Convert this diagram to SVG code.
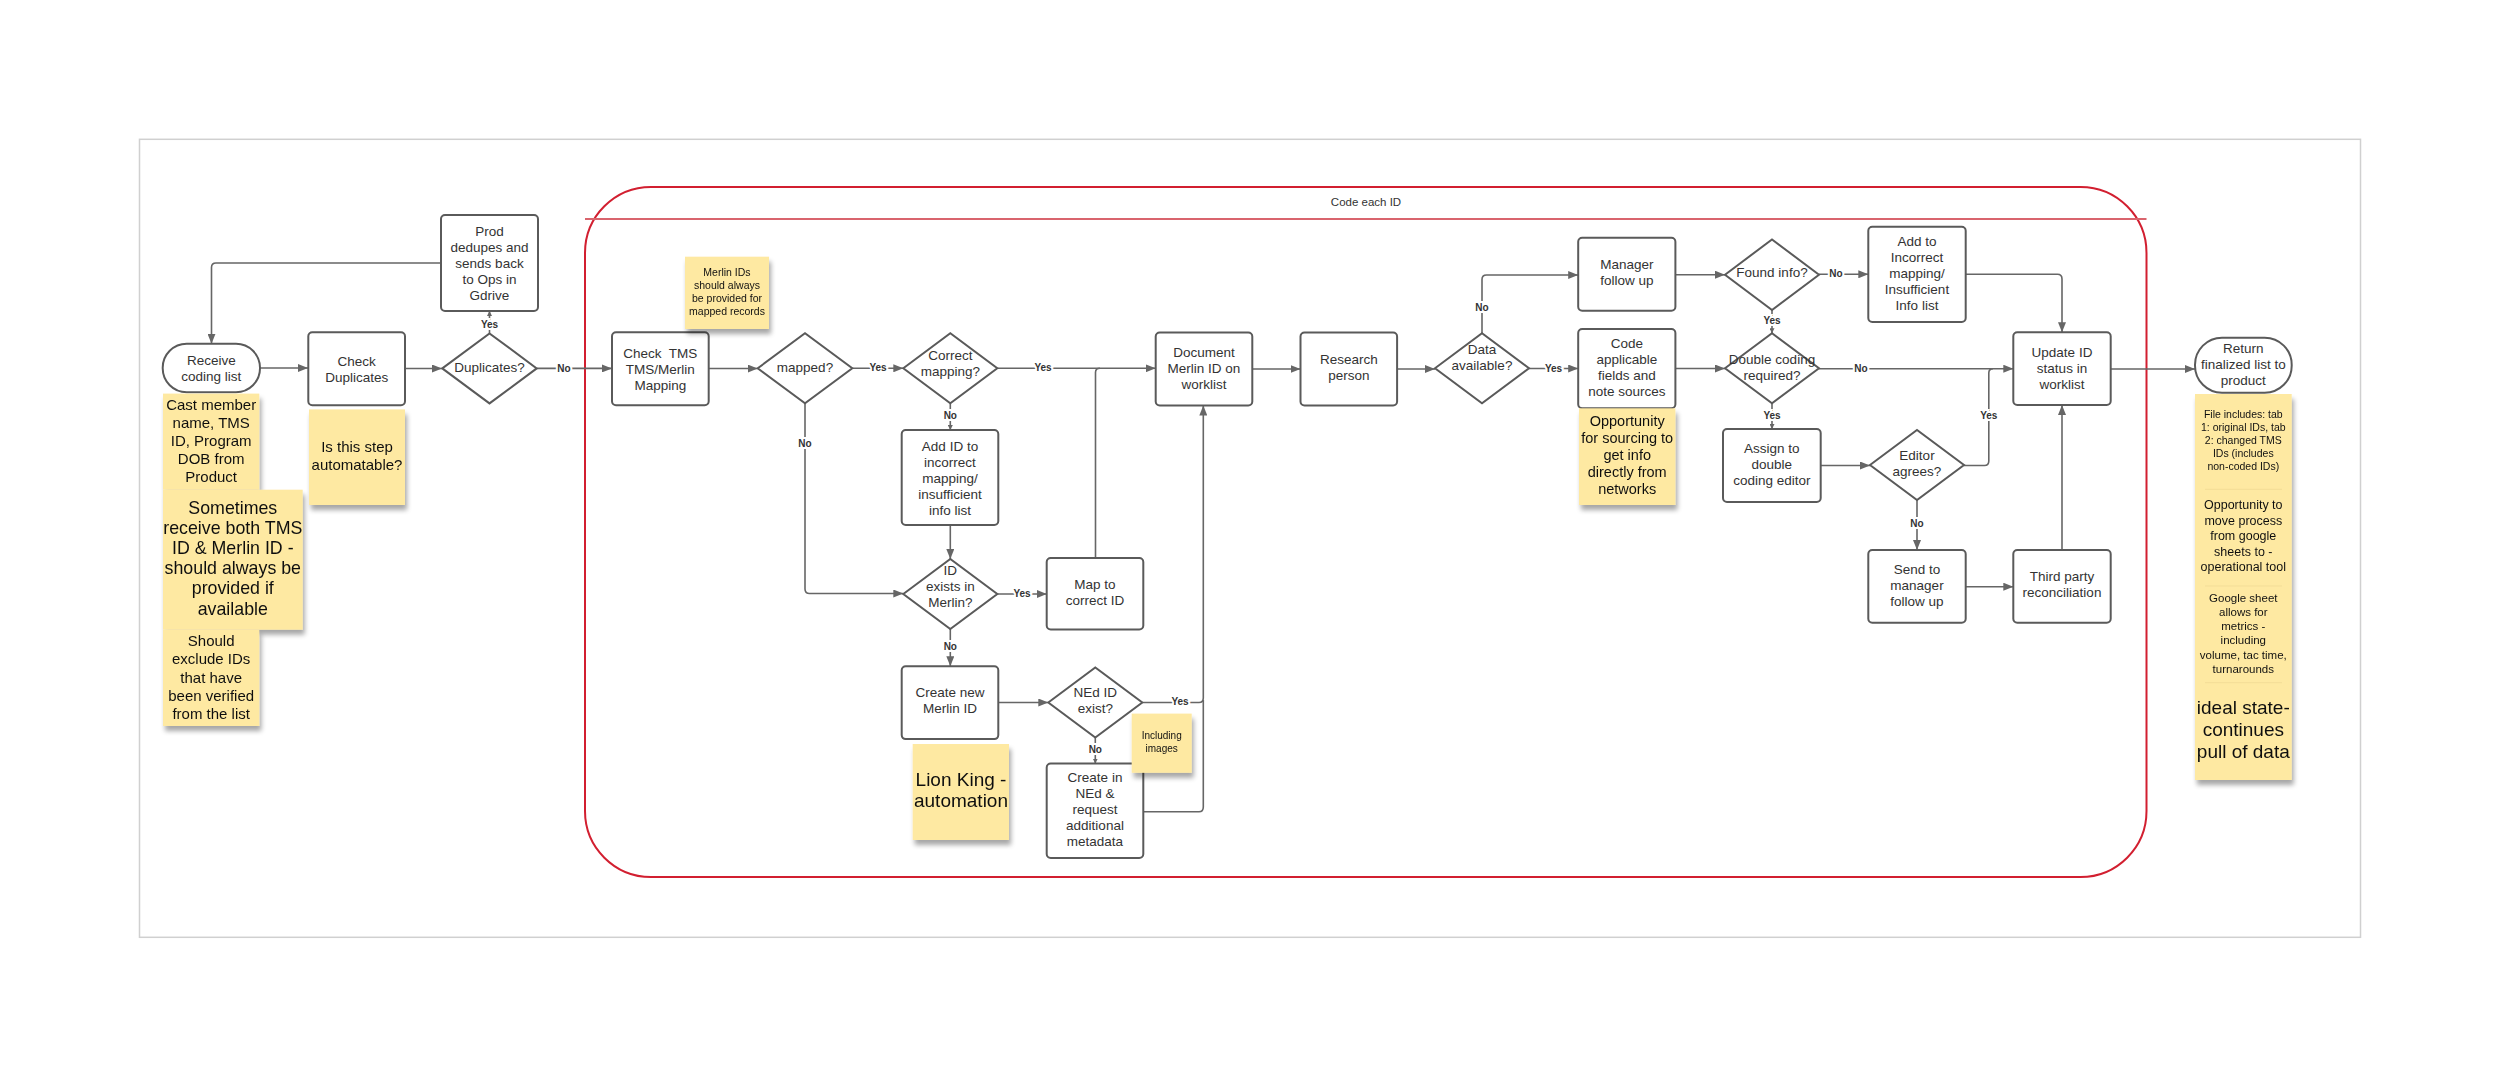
<svg xmlns="http://www.w3.org/2000/svg" width="2500" height="1077" viewBox="0 0 2500 1077">
<defs>
<marker id="arr" markerUnits="userSpaceOnUse" markerWidth="11" markerHeight="8" refX="10" refY="4" orient="auto">
<path d="M0,0 L10,4 L0,8 z" fill="#666"/>
</marker>
<marker id="arrs" markerUnits="userSpaceOnUse" markerWidth="6" markerHeight="5" refX="5" refY="2.5" orient="auto">
<path d="M0,0 L5,2.5 L0,5 z" fill="#666"/>
</marker>
<filter id="sh" x="-20%" y="-20%" width="140%" height="150%">
<feGaussianBlur in="SourceAlpha" stdDeviation="2.5"/>
<feOffset dx="2" dy="5" result="b"/>
<feComponentTransfer><feFuncA type="linear" slope="0.35"/></feComponentTransfer>
<feMerge><feMergeNode/><feMergeNode in="SourceGraphic"/></feMerge>
</filter>
</defs>
<style>
.n{fill:#fff;stroke:#5a5a5a;stroke-width:2}
.t{font-family:"Liberation Sans",Arial,sans-serif;font-size:13.5px;fill:#333;text-anchor:middle;dominant-baseline:central}
.c{fill:none;stroke:#666;stroke-width:1.6}
.l{font-family:"Liberation Sans",Arial,sans-serif;font-size:10px;font-weight:bold;fill:#333;text-anchor:middle;dominant-baseline:central;stroke:#fff;stroke-width:4;paint-order:stroke}
.s{fill:#fee9a2}
.st{font-family:"Liberation Sans",Arial,sans-serif;fill:#111;text-anchor:middle;dominant-baseline:central}
</style>
<rect width="2500" height="1077" fill="#fff"/>
<rect x="139.5" y="139.3" width="2221" height="798" fill="none" stroke="#d0d0d0" stroke-width="1.5"/>

<g id="container">
<rect x="585" y="187" width="1561.5" height="690" rx="66" fill="none" stroke="#d21f30" stroke-width="2"/>
<line x1="585" y1="219" x2="2146.5" y2="219" stroke="#d9646d" stroke-width="1.8"/>
<text x="1366" y="202" class="t" style="font-size:11.5px">Code each ID</text>
</g>

<g id="connectors">
<path class="c" d="M260,368 H308" marker-end="url(#arr)"/>
<path class="c" d="M405,368.5 H442" marker-end="url(#arr)"/>
<path class="c" d="M489.5,333.4 V311" marker-end="url(#arrs)"/>
<path class="c" d="M441,263 H216 Q211.5,263 211.5,267.5 V343.8" marker-end="url(#arr)"/>
<path class="c" d="M536.7,368.4 H612" marker-end="url(#arr)"/>
<path class="c" d="M708.7,368.5 H757.7" marker-end="url(#arr)"/>
<path class="c" d="M852.3,368.3 H903.3" marker-end="url(#arr)"/>
<path class="c" d="M997.3,368.3 H1155.7" marker-end="url(#arr)"/>
<path class="c" d="M950.3,403.3 V430" marker-end="url(#arrs)"/>
<path class="c" d="M950.3,525 V559" marker-end="url(#arr)"/>
<path class="c" d="M805,403.3 V589 Q805,593.5 809.5,593.5 H903.3" marker-end="url(#arr)"/>
<path class="c" d="M997.3,594 H1046.7" marker-end="url(#arr)"/>
<path class="c" d="M1095.5,558 V372.5 Q1095.5,368.3 1100,368.3"/>
<path class="c" d="M950.3,629 V666.3" marker-end="url(#arr)"/>
<path class="c" d="M998.3,702.5 H1048.3" marker-end="url(#arr)"/>
<path class="c" d="M1142.3,702.5 H1199 Q1203.3,702.5 1203.3,698 V405.5" marker-end="url(#arr)"/>
<path class="c" d="M1095.3,737.5 V763.6" marker-end="url(#arrs)"/>
<path class="c" d="M1143.3,811.7 H1199 Q1203.3,811.7 1203.3,807 V700"/>
<path class="c" d="M1252.3,369 H1300.5" marker-end="url(#arr)"/>
<path class="c" d="M1397.1,369 H1435" marker-end="url(#arr)"/>
<path class="c" d="M1529,368.5 H1578.2" marker-end="url(#arr)"/>
<path class="c" d="M1482,333.3 V279.5 Q1482,275 1486.5,275 H1578.2" marker-end="url(#arr)"/>
<path class="c" d="M1675.4,274.7 H1725" marker-end="url(#arr)"/>
<path class="c" d="M1819,274.3 H1868.3" marker-end="url(#arr)"/>
<path class="c" d="M1772,310 V333.3" marker-end="url(#arrs)"/>
<path class="c" d="M1675.4,368.5 H1725" marker-end="url(#arr)"/>
<path class="c" d="M1819,368.7 H2013.3" marker-end="url(#arr)"/>
<path class="c" d="M1772,403.3 V429" marker-end="url(#arrs)"/>
<path class="c" d="M1820.7,465.5 H1870" marker-end="url(#arr)"/>
<path class="c" d="M1964,465.5 H1984.5 Q1988.8,465.5 1988.8,461 V373 Q1988.8,368.7 1993,368.7"/>
<path class="c" d="M1917,500 V550" marker-end="url(#arr)"/>
<path class="c" d="M1965.7,586.7 H2013.3" marker-end="url(#arr)"/>
<path class="c" d="M2062,550 V405" marker-end="url(#arr)"/>
<path class="c" d="M1965.7,274.3 H2057.5 Q2062,274.3 2062,279 V332.3" marker-end="url(#arr)"/>
<path class="c" d="M2110.7,369 H2195" marker-end="url(#arr)"/>
<text class="l" x="489.5" y="324.5">Yes</text>
<text class="l" x="564" y="368.4">No</text>
<text class="l" x="878" y="367.5">Yes</text>
<text class="l" x="1043" y="367.5">Yes</text>
<text class="l" x="950.3" y="415.5">No</text>
<text class="l" x="805" y="443.5">No</text>
<text class="l" x="1022" y="593">Yes</text>
<text class="l" x="950.3" y="646">No</text>
<text class="l" x="1180" y="701">Yes</text>
<text class="l" x="1095.3" y="749">No</text>
<text class="l" x="1553.5" y="368">Yes</text>
<text class="l" x="1482" y="307.7">No</text>
<text class="l" x="1836" y="273.5">No</text>
<text class="l" x="1772" y="320">Yes</text>
<text class="l" x="1861" y="368">No</text>
<text class="l" x="1772" y="415">Yes</text>
<text class="l" x="1988.8" y="415.7">Yes</text>
<text class="l" x="1917" y="523.3">No</text>
</g>

<g id="receive"><rect class="n" x="162.7" y="343.8" width="97.3" height="48.4" rx="24"/>
<text class="t" x="211.3" y="368"><tspan x="211.3" dy="-8">Receive</tspan><tspan x="211.3" dy="16">coding list</tspan></text></g>
<g id="check-duplicates"><rect class="n" x="308.3" y="332.2" width="96.7" height="73" rx="4"/>
<text class="t" x="356.7" y="368.7"><tspan x="356.7" dy="-8">Check</tspan><tspan x="356.7" dy="16">Duplicates</tspan></text></g>
<g id="duplicates"><polygon class="n" points="442.3,368.4 489.5,333.4 536.7,368.4 489.5,403.4"/>
<text class="t" x="489.5" y="367">Duplicates?</text></g>
<g id="prod-dedupes"><rect class="n" x="441" y="215" width="97" height="96" rx="4"/>
<text class="t" x="489.5" y="263"><tspan x="489.5" dy="-32">Prod</tspan><tspan x="489.5" dy="16">dedupes and</tspan><tspan x="489.5" dy="16">sends back</tspan><tspan x="489.5" dy="16">to Ops in</tspan><tspan x="489.5" dy="16">Gdrive</tspan></text></g>
<g id="check-tms"><rect class="n" x="612" y="332.3" width="96.7" height="73" rx="4"/>
<text class="t" x="660.3" y="368.8" style="white-space:pre"><tspan x="660.3" dy="-16">Check  TMS</tspan><tspan x="660.3" dy="16">TMS/Merlin</tspan><tspan x="660.3" dy="16">Mapping</tspan></text></g>
<g id="mapped"><polygon class="n" points="757.7,368.3 805,333.3 852.3,368.3 805,403.3"/>
<text class="t" x="805" y="367">mapped?</text></g>
<g id="correct-mapping"><polygon class="n" points="903.3,368.3 950.3,333.3 997.3,368.3 950.3,403.3"/>
<text class="t" x="950.3" y="363"><tspan x="950.3" dy="-8">Correct</tspan><tspan x="950.3" dy="16">mapping?</tspan></text></g>
<g id="add-id-incorrect"><rect class="n" x="901.7" y="430" width="96.6" height="95" rx="4"/>
<text class="t" x="950" y="477.5"><tspan x="950" dy="-32">Add ID to</tspan><tspan x="950" dy="16">incorrect</tspan><tspan x="950" dy="16">mapping/</tspan><tspan x="950" dy="16">insufficient</tspan><tspan x="950" dy="16">info list</tspan></text></g>
<g id="id-exists"><polygon class="n" points="903.3,594 950.3,559 997.3,594 950.3,629"/>
<text class="t" x="950.3" y="585.7"><tspan x="950.3" dy="-16">ID</tspan><tspan x="950.3" dy="16">exists in</tspan><tspan x="950.3" dy="16">Merlin?</tspan></text></g>
<g id="map-correct"><rect class="n" x="1046.7" y="558" width="96.6" height="71.4" rx="4"/>
<text class="t" x="1095" y="591.7"><tspan x="1095" dy="-8">Map to</tspan><tspan x="1095" dy="16">correct ID</tspan></text></g>
<g id="create-merlin"><rect class="n" x="901.7" y="666.3" width="96.6" height="72.8" rx="4"/>
<text class="t" x="950" y="700.4"><tspan x="950" dy="-8">Create new</tspan><tspan x="950" dy="16">Merlin ID</tspan></text></g>
<g id="ned-exist"><polygon class="n" points="1048.3,702.5 1095.3,667.5 1142.3,702.5 1095.3,737.5"/>
<text class="t" x="1095.3" y="699.7"><tspan x="1095.3" dy="-8">NEd ID</tspan><tspan x="1095.3" dy="16">exist?</tspan></text></g>
<g id="create-ned"><rect class="n" x="1046.7" y="763.6" width="96.6" height="94.3" rx="4"/>
<text class="t" x="1095" y="809.2"><tspan x="1095" dy="-32">Create in</tspan><tspan x="1095" dy="16">NEd &amp;</tspan><tspan x="1095" dy="16">request</tspan><tspan x="1095" dy="16">additional</tspan><tspan x="1095" dy="16">metadata</tspan></text></g>
<g id="document"><rect class="n" x="1155.7" y="332.5" width="96.6" height="73" rx="4"/>
<text class="t" x="1204" y="367.5"><tspan x="1204" dy="-16">Document</tspan><tspan x="1204" dy="16">Merlin ID on</tspan><tspan x="1204" dy="16">worklist</tspan></text></g>
<g id="research"><rect class="n" x="1300.5" y="332.5" width="96.6" height="73" rx="4"/>
<text class="t" x="1348.8" y="366.7"><tspan x="1348.8" dy="-8">Research</tspan><tspan x="1348.8" dy="16">person</tspan></text></g>
<g id="data-available"><polygon class="n" points="1435,368.3 1482,333.3 1529,368.3 1482,403.3"/>
<text class="t" x="1482" y="357.3"><tspan x="1482" dy="-8">Data</tspan><tspan x="1482" dy="16">available?</tspan></text></g>
<g id="manager-follow"><rect class="n" x="1578.2" y="237.7" width="97.2" height="73" rx="4"/>
<text class="t" x="1626.8" y="272.3"><tspan x="1626.8" dy="-8">Manager</tspan><tspan x="1626.8" dy="16">follow up</tspan></text></g>
<g id="code-fields"><rect class="n" x="1578.2" y="329" width="97.2" height="79.3" rx="4"/>
<text class="t" x="1626.8" y="367"><tspan x="1626.8" dy="-24">Code</tspan><tspan x="1626.8" dy="16">applicable</tspan><tspan x="1626.8" dy="16">fields and</tspan><tspan x="1626.8" dy="16">note sources</tspan></text></g>
<g id="found-info"><polygon class="n" points="1725,274.7 1772,239.5 1819,274.7 1772,310"/>
<text class="t" x="1772" y="272.3">Found info?</text></g>
<g id="add-incorrect"><rect class="n" x="1868.3" y="226.7" width="97.4" height="95.3" rx="4"/>
<text class="t" x="1917" y="272.7"><tspan x="1917" dy="-32">Add to</tspan><tspan x="1917" dy="16">Incorrect</tspan><tspan x="1917" dy="16">mapping/</tspan><tspan x="1917" dy="16">Insufficient</tspan><tspan x="1917" dy="16">Info list</tspan></text></g>
<g id="double-coding"><polygon class="n" points="1725,368.3 1772,333.3 1819,368.3 1772,403.3"/>
<text class="t" x="1772" y="367"><tspan x="1772" dy="-8">Double coding</tspan><tspan x="1772" dy="16">required?</tspan></text></g>
<g id="assign-editor"><rect class="n" x="1723" y="429" width="97.7" height="73" rx="4"/>
<text class="t" x="1771.8" y="464.3"><tspan x="1771.8" dy="-16">Assign to</tspan><tspan x="1771.8" dy="16">double</tspan><tspan x="1771.8" dy="16">coding editor</tspan></text></g>
<g id="editor-agrees"><polygon class="n" points="1870,465 1917,430 1964,465 1917,500"/>
<text class="t" x="1917" y="463"><tspan x="1917" dy="-8">Editor</tspan><tspan x="1917" dy="16">agrees?</tspan></text></g>
<g id="send-manager"><rect class="n" x="1868.3" y="550" width="97.4" height="72.7" rx="4"/>
<text class="t" x="1917" y="585"><tspan x="1917" dy="-16">Send to</tspan><tspan x="1917" dy="16">manager</tspan><tspan x="1917" dy="16">follow up</tspan></text></g>
<g id="third-party"><rect class="n" x="2013.3" y="550" width="97.4" height="72.7" rx="4"/>
<text class="t" x="2062" y="584"><tspan x="2062" dy="-8">Third party</tspan><tspan x="2062" dy="16">reconciliation</tspan></text></g>
<g id="update-status"><rect class="n" x="2013.3" y="332.3" width="97.4" height="72.7" rx="4"/>
<text class="t" x="2062" y="367.7"><tspan x="2062" dy="-16">Update ID</tspan><tspan x="2062" dy="16">status in</tspan><tspan x="2062" dy="16">worklist</tspan></text></g>
<g id="return-list"><rect class="n" x="2195" y="337.7" width="96.7" height="55" rx="27"/>
<text class="t" x="2243.3" y="363.7"><tspan x="2243.3" dy="-16">Return</tspan><tspan x="2243.3" dy="16">finalized list to</tspan><tspan x="2243.3" dy="16">product</tspan></text></g>

<g id="note-cast" filter="url(#sh)"><rect class="s" x="163" y="393.6" width="96.3" height="96.1"/>
<text class="st" style="font-size:15px" x="211.2" y="440"><tspan x="211.2" dy="-36.4">Cast member</tspan><tspan x="211.2" dy="18.2">name, TMS</tspan><tspan x="211.2" dy="18.2">ID, Program</tspan><tspan x="211.2" dy="18.2">DOB from</tspan><tspan x="211.2" dy="18.2">Product</tspan></text></g>
<g id="note-sometimes" filter="url(#sh)"><rect class="s" x="163" y="489.7" width="139.7" height="140"/>
<text class="st" style="font-size:17.8px" x="232.8" y="558"><tspan x="232.8" dy="-50.5">Sometimes</tspan><tspan x="232.8" dy="20.2">receive both TMS</tspan><tspan x="232.8" dy="20.2">ID &amp; Merlin ID -</tspan><tspan x="232.8" dy="20.2">should always be</tspan><tspan x="232.8" dy="20.2">provided if</tspan><tspan x="232.8" dy="20.2">available</tspan></text></g>
<g id="note-exclude" filter="url(#sh)"><rect class="s" x="163" y="629.7" width="96.3" height="96.3"/>
<text class="st" style="font-size:15px" x="211.2" y="676.6"><tspan x="211.2" dy="-36.4">Should</tspan><tspan x="211.2" dy="18.2">exclude IDs</tspan><tspan x="211.2" dy="18.2">that have</tspan><tspan x="211.2" dy="18.2">been verified</tspan><tspan x="211.2" dy="18.2">from the list</tspan></text></g>
<g id="note-automatable" filter="url(#sh)"><rect class="s" x="309" y="409.4" width="96" height="95.6"/>
<text class="st" style="font-size:15px" x="357" y="455"><tspan x="357" dy="-8.8">Is this step</tspan><tspan x="357" dy="17.6">automatable?</tspan></text></g>
<g id="note-merlin-ids" filter="url(#sh)"><rect class="s" x="685" y="256.7" width="84" height="72.3"/>
<text class="st" style="font-size:10.5px" x="727" y="291.5"><tspan x="727" dy="-19.5">Merlin IDs</tspan><tspan x="727" dy="13">should always</tspan><tspan x="727" dy="13">be provided for</tspan><tspan x="727" dy="13">mapped records</tspan></text></g>
<g id="note-lion-king" filter="url(#sh)"><rect class="s" x="912.7" y="744" width="96.3" height="96"/>
<text class="st" style="font-size:19px" x="961" y="789.6"><tspan x="961" dy="-10.6">Lion King -</tspan><tspan x="961" dy="21.2">automation</tspan></text></g>
<g id="note-images" filter="url(#sh)"><rect class="s" x="1131.7" y="713.6" width="60" height="59.2"/>
<text class="st" style="font-size:10px" x="1161.7" y="741.4"><tspan x="1161.7" dy="-6.7">Including</tspan><tspan x="1161.7" dy="13.4">images</tspan></text></g>
<g id="note-opportunity" filter="url(#sh)"><rect class="s" x="1579" y="408.3" width="96.4" height="96.7"/>
<text class="st" style="font-size:14.5px" x="1627.2" y="455"><tspan x="1627.2" dy="-34.2">Opportunity</tspan><tspan x="1627.2" dy="17.1">for sourcing to</tspan><tspan x="1627.2" dy="17.1">get info</tspan><tspan x="1627.2" dy="17.1">directly from</tspan><tspan x="1627.2" dy="17.1">networks</tspan></text></g>
<g id="note-return" filter="url(#sh)">
<rect class="s" x="2195" y="394" width="96.7" height="386"/>
<line x1="2205" y1="489.3" x2="2282" y2="489.3" stroke="#f3dd97" stroke-width="1"/>
<line x1="2205" y1="586" x2="2282" y2="586" stroke="#f3dd97" stroke-width="1"/>
<line x1="2205" y1="682.7" x2="2282" y2="682.7" stroke="#f3dd97" stroke-width="1"/>
<text class="st" style="font-size:10.5px" x="2243.3" y="439.7"><tspan x="2243.3" dy="-26">File includes: tab</tspan><tspan x="2243.3" dy="13">1: original IDs, tab</tspan><tspan x="2243.3" dy="13">2: changed TMS</tspan><tspan x="2243.3" dy="13">IDs (includes</tspan><tspan x="2243.3" dy="13">non-coded IDs)</tspan></text>
<text class="st" style="font-size:12.5px" x="2243.3" y="536.3"><tspan x="2243.3" dy="-31">Opportunity to</tspan><tspan x="2243.3" dy="15.5">move process</tspan><tspan x="2243.3" dy="15.5">from google</tspan><tspan x="2243.3" dy="15.5">sheets to -</tspan><tspan x="2243.3" dy="15.5">operational tool</tspan></text>
<text class="st" style="font-size:11.5px" x="2243.3" y="633.2"><tspan x="2243.3" dy="-35.5">Google sheet</tspan><tspan x="2243.3" dy="14.2">allows for</tspan><tspan x="2243.3" dy="14.2">metrics -</tspan><tspan x="2243.3" dy="14.2">including</tspan><tspan x="2243.3" dy="14.2">volume, tac time,</tspan><tspan x="2243.3" dy="14.2">turnarounds</tspan></text>
<text class="st" style="font-size:19px" x="2243.3" y="729"><tspan x="2243.3" dy="-22.3">ideal state-</tspan><tspan x="2243.3" dy="22.3">continues</tspan><tspan x="2243.3" dy="22.3">pull of data</tspan></text>
</g>
</svg>
